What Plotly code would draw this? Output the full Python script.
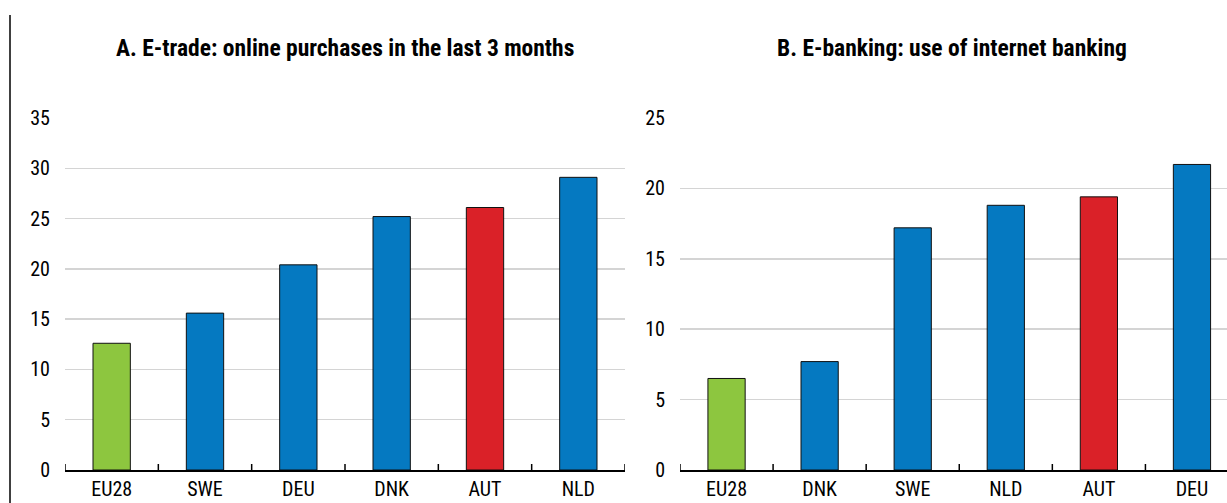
import plotly.graph_objects as go

# Panel A: E-trade
cats_a = ["EU28", "SWE", "DEU", "DNK", "AUT", "NLD"]
vals_a = [12.6, 15.6, 20.4, 25.2, 26.1, 29.1]
# Panel B: E-banking
cats_b = ["EU28", "DNK", "SWE", "NLD", "AUT", "DEU"]
vals_b = [6.5, 7.7, 17.2, 18.8, 19.4, 21.7]

title_a = "A. E-trade: online purchases in the last 3 months"
title_b = "B. E-banking: use of internet banking"

GREEN = "#8DC63F"
BLUE = "#0579C1"
RED = "#DA2128"

def colors(cats):
    return [GREEN if c == "EU28" else RED if c == "AUT" else BLUE for c in cats]

FONT = "Roboto Condensed, Arial Narrow, sans-serif"
W, H = 1227, 503

fig = go.Figure()
fig.add_trace(go.Bar(x=cats_a, y=vals_a, marker=dict(color=colors(cats_a), line=dict(color="#111", width=1)),
                     width=0.4, xaxis="x", yaxis="y", showlegend=False, hoverinfo="skip"))
fig.add_trace(go.Bar(x=cats_b, y=vals_b, marker=dict(color=colors(cats_b), line=dict(color="#111", width=1)),
                     width=0.4, xaxis="x2", yaxis="y2", showlegend=False, hoverinfo="skip"))

ydom = [33 / H, 385 / H]
xcommon = dict(type="category", showgrid=False, showline=True, linecolor="#000", linewidth=1.5,
               ticks="", automargin=False, tickfont=dict(size=20, color="#000", family=FONT), fixedrange=True)
ycommon = dict(showgrid=True, gridcolor="#D4D4D4", gridwidth=1.5, zeroline=False, showline=False,
               ticks="", automargin=False, tickfont=dict(size=20, color="#000", family=FONT),
               ticklabelstandoff=14, fixedrange=True)

fig.update_layout(
    template="none",
    width=W, height=H,
    margin=dict(l=0, r=0, t=0, b=0, pad=0),
    paper_bgcolor="white", plot_bgcolor="white",
    xaxis=dict(domain=[65 / W, 625 / W], range=[-0.5, 5.5], anchor="y", **xcommon),
    yaxis=dict(domain=ydom, range=[0, 35], dtick=5, anchor="x", **ycommon),
    xaxis2=dict(domain=[680 / W, 1.0], range=[-0.5, 5.5 - 11.5 / 93], anchor="y2", **xcommon),
    yaxis2=dict(domain=ydom, range=[0, 25], dtick=5, anchor="x2", **ycommon),
    font=dict(family=FONT, color="#000"),
    showlegend=False,
)

# category boundary tick marks on the x axes (pointing upward)
shapes = []
for xa in ("x", "x2"):
    for i in range(7):
        shapes.append(dict(type="line", xref=xa, yref="paper", x0=i - 0.5, x1=i - 0.5,
                           y0=ydom[0], y1=ydom[0] + 6 / H, line=dict(color="#000", width=1.5)))
# left border line
shapes.append(dict(type="line", xref="paper", yref="paper", x0=10 / W, x1=10 / W,
                   y0=0, y1=1 - 15 / H, line=dict(color="#000", width=1.5)))
fig.update_layout(shapes=shapes)

fig.add_annotation(text="<b>" + title_a + "</b>", xref="paper", yref="paper", x=345 / W, y=1 - 48 / H,
                   xanchor="center", yanchor="middle", showarrow=False, font=dict(size=23.5, family=FONT, color="#000"))
fig.add_annotation(text="<b>" + title_b + "</b>", xref="paper", yref="paper", x=952 / W, y=1 - 48 / H,
                   xanchor="center", yanchor="middle", showarrow=False, font=dict(size=23.5, family=FONT, color="#000"))

fig.write_html("out.html", config={"displayModeBar": False, "staticPlot": True},
               post_script="document.body.style.margin='0';document.body.style.overflow='hidden';")
